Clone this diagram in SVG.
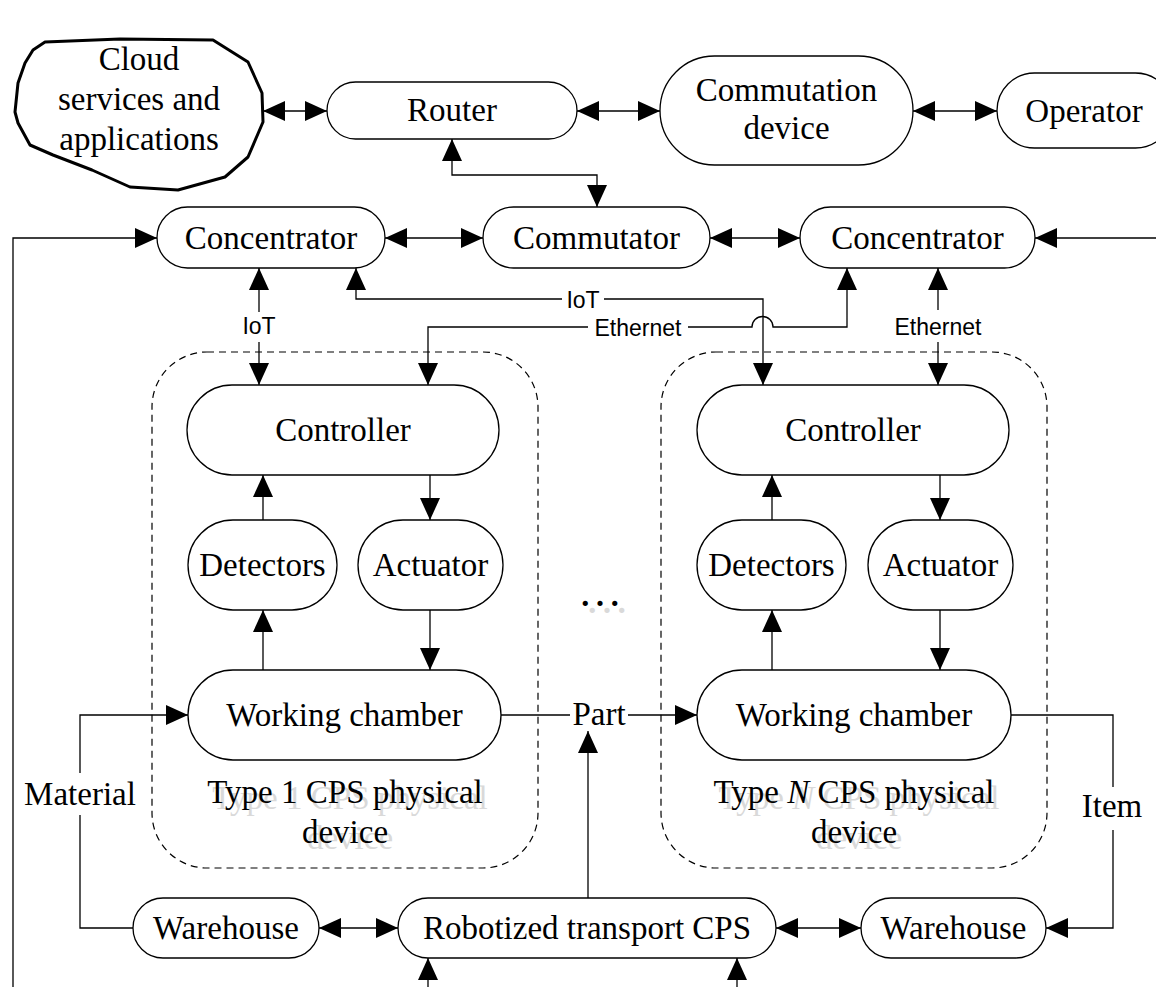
<svg xmlns="http://www.w3.org/2000/svg" width="1156" height="987" viewBox="0 0 1156 987">
<defs>
<marker id="ah" viewBox="0 0 22 20" refX="22" refY="10" markerWidth="22" markerHeight="20" markerUnits="userSpaceOnUse" orient="auto-start-reverse"><path d="M0,0 L22,10 L0,20 z" fill="#000"/></marker>
<style>
.n{fill:#fff;stroke:#000;stroke-width:1.3}
.c{fill:none;stroke:#000;stroke-width:1.3}
.a{marker-end:url(#ah)}
.b{marker-start:url(#ah);marker-end:url(#ah)}
.t{font-family:"Liberation Serif","Times New Roman",serif;font-size:33px;text-anchor:middle;fill:#000}
.s{font-family:"Liberation Sans",Arial,sans-serif;font-size:23px;text-anchor:middle;fill:#000}
.g{fill:#d9d9d9}
.d{fill:none;stroke:#000;stroke-width:1.2;stroke-dasharray:7 5}
</style>
</defs>
<rect width="1156" height="987" fill="#fff"/>

<g id="container-type1">
<rect class="d" x="152" y="352" width="386" height="516" rx="55"/>
<text class="t g" x="350" y="809">Type 1 CPS physical</text>
<text class="t g" x="350" y="849">device</text>
<text class="t" x="345" y="803">Type 1 CPS physical</text>
<text class="t" x="345" y="843">device</text>
</g>
<g id="container-typeN">
<rect class="d" x="661" y="352" width="386" height="516" rx="55"/>
<text class="t g" x="859" y="809">Type <tspan font-style="italic">N</tspan> CPS physical</text>
<text class="t g" x="859" y="849">device</text>
<text class="t" x="854" y="803">Type <tspan font-style="italic">N</tspan> CPS physical</text>
<text class="t" x="854" y="843">device</text>
</g>
<g id="ellipsis">
<text class="t g" x="607" y="613" style="font-size:44px">…</text>
<text class="t" x="600" y="606" style="font-size:44px">…</text>
</g>

<g id="connectors">
<path class="c b" d="M263,111 H327"/>
<path class="c b" d="M577,111 H660"/>
<path class="c b" d="M913,111 H997"/>
<path class="c b" d="M452,139 V175 H597 V207"/>
<path class="c a" d="M13,987 V238 H157"/>
<path class="c b" d="M385,238 H483"/>
<path class="c b" d="M710,238 H800"/>
<path class="c a" d="M1156,238 H1035"/>
<path class="c a" d="M259,312 V268"/>
<path class="c a" d="M259,342 V385"/>
<path class="c" d="M356,290 V299 H562"/>
<path class="c a" d="M356,290 V268"/>
<path class="c a" d="M604,299 H763 V385"/>
<path class="c a" d="M588,327 H428 V385"/>
<path class="c a" d="M688,327 H752 A10.5,10.5 0 0 1 773,327 H847 V268"/>
<path class="c a" d="M938,310 V268"/>
<path class="c a" d="M938,342 V385"/>
<path class="c a" d="M263,520 V475"/>
<path class="c a" d="M430,475 V520"/>
<path class="c a" d="M263,670 V610"/>
<path class="c a" d="M430,610 V670"/>
<path class="c a" d="M772,520 V475"/>
<path class="c a" d="M940,475 V520"/>
<path class="c a" d="M772,670 V610"/>
<path class="c a" d="M940,610 V670"/>
<path class="c" d="M133,928 H80 V815"/>
<path class="c a" d="M80,773 V715 H188"/>
<path class="c" d="M501,715 H570"/>
<path class="c a" d="M628,715 H697"/>
<path class="c a" d="M588,898 V731"/>
<path class="c" d="M1011,715 H1113 V787"/>
<path class="c a" d="M1113,830 V928 H1046"/>
<path class="c b" d="M319,928 H398"/>
<path class="c b" d="M776,928 H861"/>
<path class="c a" d="M428,987 V958"/>
<path class="c a" d="M737,987 V958"/>
<text class="s" x="259" y="334">IoT</text>
<text class="s" x="583" y="308">IoT</text>
<text class="s" x="638" y="336">Ethernet</text>
<text class="s" x="938" y="335">Ethernet</text>
<text class="t" x="80" y="805">Material</text>
<text class="t" x="599" y="725">Part</text>
<text class="t" x="1112" y="817">Item</text>
</g>

<g id="cloud">
<polygon points="45,42 33,50 25,63 18,83 15,112 18,123 30,145 53,155 92,170 130,187 178,190 225,177 248,157 263,122 262,93 248,62 213,40 120,39" fill="#fff" stroke="#000" stroke-width="3" stroke-linejoin="round"/>
<text class="t" x="139" y="70">Cloud</text>
<text class="t" x="139" y="110">services and</text>
<text class="t" x="139" y="150">applications</text>
</g>
<g id="router"><rect class="n" x="327" y="82" width="250" height="57" rx="28.5"/><text class="t" x="452" y="121">Router</text></g>
<g id="commutation-device"><rect class="n" x="660" y="56" width="253" height="109" rx="54.5"/><text class="t" x="786.5" y="101">Commutation</text><text class="t" x="786.5" y="139">device</text></g>
<g id="operator"><rect class="n" x="997" y="73" width="176" height="75" rx="37.5"/><text class="t" x="1084" y="122">Operator</text></g>
<g id="concentrator-left"><rect class="n" x="157" y="207" width="228" height="61" rx="30.5"/><text class="t" x="271" y="249">Concentrator</text></g>
<g id="commutator"><rect class="n" x="483" y="207" width="227" height="61" rx="30.5"/><text class="t" x="596.5" y="249">Commutator</text></g>
<g id="concentrator-right"><rect class="n" x="800" y="207" width="235" height="61" rx="30.5"/><text class="t" x="917.5" y="249">Concentrator</text></g>
<g id="controller-1"><rect class="n" x="187" y="385" width="312" height="90" rx="45"/><text class="t" x="343" y="441">Controller</text></g>
<g id="detectors-1"><rect class="n" x="188" y="520" width="149" height="90" rx="45"/><text class="t" x="262.5" y="576">Detectors</text></g>
<g id="actuator-1"><rect class="n" x="358" y="520" width="145" height="90" rx="45"/><text class="t" x="430.5" y="576">Actuator</text></g>
<g id="working-chamber-1"><rect class="n" x="188" y="670" width="313" height="90" rx="45"/><text class="t" x="344.5" y="726">Working chamber</text></g>
<g id="controller-N"><rect class="n" x="697" y="385" width="312" height="90" rx="45"/><text class="t" x="853" y="441">Controller</text></g>
<g id="detectors-N"><rect class="n" x="697" y="520" width="149" height="90" rx="45"/><text class="t" x="771.5" y="576">Detectors</text></g>
<g id="actuator-N"><rect class="n" x="868" y="520" width="145" height="90" rx="45"/><text class="t" x="940.5" y="576">Actuator</text></g>
<g id="working-chamber-N"><rect class="n" x="697" y="670" width="314" height="90" rx="45"/><text class="t" x="854" y="726">Working chamber</text></g>
<g id="warehouse-left"><rect class="n" x="133" y="898" width="186" height="60" rx="30"/><text class="t" x="226" y="939">Warehouse</text></g>
<g id="robotized-transport"><rect class="n" x="398" y="898" width="378" height="60" rx="30"/><text class="t" x="587" y="939">Robotized transport CPS</text></g>
<g id="warehouse-right"><rect class="n" x="861" y="898" width="185" height="60" rx="30"/><text class="t" x="953.5" y="939">Warehouse</text></g>
</svg>
